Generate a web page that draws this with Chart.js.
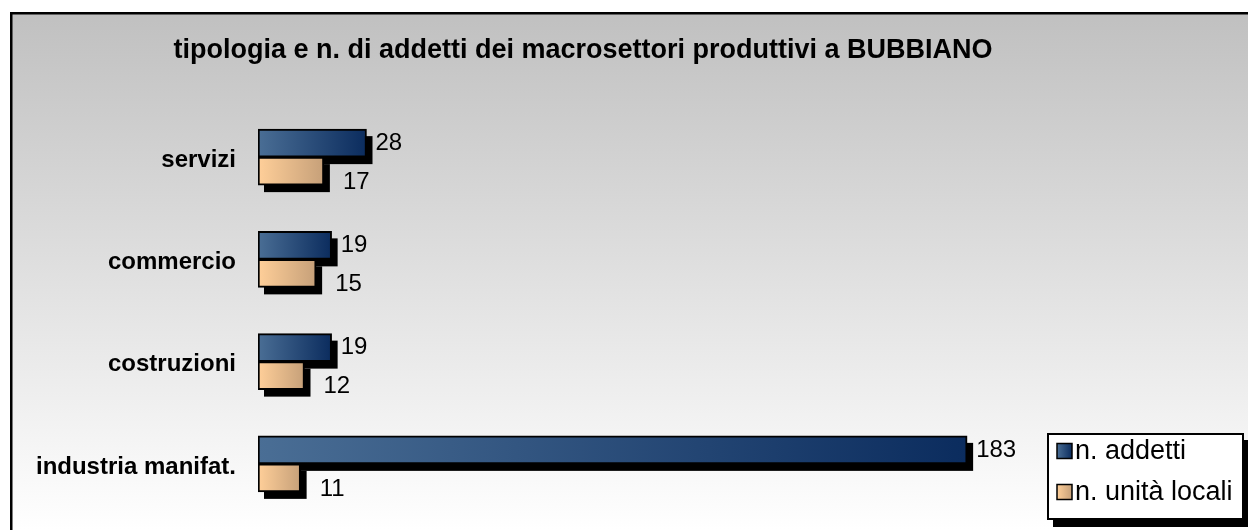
<!DOCTYPE html>
<html>
<head>
<meta charset="utf-8">
<script src="https://cdn.jsdelivr.net/npm/chart.js@4.4.1/dist/chart.umd.min.js"></script>
<style>
  html, body { margin: 0; padding: 0; background: #fff; }
  #wrap { width: 1248px; height: 530px; }
</style>
</head>
<body>
<div id="wrap"><canvas id="chart"></canvas></div>
<script>
// chart data
const titleText = 'tipologia e n. di addetti dei macrosettori produttivi a BUBBIANO';
const categories = ['servizi', 'commercio', 'costruzioni', 'industria manifat.'];
const addetti = [28, 19, 19, 183];
const unitaLocali = [17, 15, 12, 11];
const seriesNames = ['n. addetti', 'n. unità locali'];

const FONT = '"Liberation Sans", Arial, sans-serif';

// horizontal gradient for each bar, from zero to the bar end
function barGradient(light, dark) {
  return function (ctx) {
    const chart = ctx.chart;
    const x = chart.scales.x;
    if (!x || ctx.type !== 'data') return dark;
    const x0 = x.getPixelForValue(0);
    const x1 = x.getPixelForValue(ctx.raw);
    if (!isFinite(x0) || !isFinite(x1) || x1 - x0 < 1) return dark;
    const g = chart.ctx.createLinearGradient(x0, 0, x1, 0);
    g.addColorStop(0, light);
    g.addColorStop(1, dark);
    return g;
  };
}

const blue = ['#4a6e95', '#0b2c5e'];
const orange = ['#ffcf99', '#c6a079'];

// background, frame and title
const frame = {
  id: 'frame',
  beforeDraw(chart) {
    const c = chart.ctx;
    c.save();
    c.fillStyle = '#ffffff';
    c.fillRect(0, 0, chart.width, chart.height);
    const g = c.createLinearGradient(0, 12, 0, 530);
    g.addColorStop(0, '#c0c0c0');
    g.addColorStop(1, '#ffffff');
    c.fillStyle = g;
    c.fillRect(11, 13, chart.width, chart.height);
    c.strokeStyle = '#000';
    c.lineWidth = 2.5;
    c.strokeRect(11.25, 13.25, chart.width + 10, chart.height + 10);
    c.fillStyle = '#000';
    c.font = 'bold 27px ' + FONT;
    c.textAlign = 'center';
    c.textBaseline = 'middle';
    c.fillText(titleText, 583, 51);
    c.restore();
  }
};

// hard black drop shadow under the bars (drawn before the bars)
const barShadow = {
  id: 'barShadow',
  beforeDatasetsDraw(chart) {
    const c = chart.ctx;
    c.save();
    c.fillStyle = '#000';
    chart.data.datasets.forEach((ds, i) => {
      chart.getDatasetMeta(i).data.forEach(bar => {
        const p = bar.getProps(['x', 'y', 'base', 'height'], true);
        c.fillRect(p.base + 6, p.y - p.height / 2 + 7, p.x - p.base, p.height);
      });
    });
    c.restore();
  }
};

// value labels next to each bar
const valueLabels = {
  id: 'valueLabels',
  afterDatasetsDraw(chart) {
    const c = chart.ctx;
    c.save();
    c.fillStyle = '#000';
    c.font = '24px ' + FONT;
    c.textAlign = 'left';
    c.textBaseline = 'middle';
    chart.data.datasets.forEach((ds, i) => {
      const meta = chart.getDatasetMeta(i);
      meta.data.forEach((bar, j) => {
        const dx = i === 0 ? 9 : 19;
        const dy = i === 0 ? 0 : 11;
        c.fillText(String(ds.data[j]), bar.x + dx, bar.y + dy);
      });
    });
    c.restore();
  }
};

// boxed legend in the lower right corner
const boxLegend = {
  id: 'boxLegend',
  afterDraw(chart) {
    const c = chart.ctx;
    const bx = 1047, by = 433, bw = 197, bh = 87;
    c.save();
    c.fillStyle = '#000';
    c.fillRect(bx + 6, by + 7, bw, bh);
    c.fillStyle = '#fff';
    c.fillRect(bx, by, bw, bh);
    c.strokeStyle = '#000';
    c.lineWidth = 2;
    c.strokeRect(bx + 1, by + 1, bw - 2, bh - 2);
    c.font = '27px ' + FONT;
    c.textBaseline = 'middle';
    c.textAlign = 'left';
    const cols = [blue, orange];
    chart.data.datasets.forEach((ds, i) => {
      const cy = by + 18 + i * 41;
      const mx = 1057, ms = 15;
      const g = c.createLinearGradient(mx, 0, mx + ms, 0);
      g.addColorStop(0, cols[i][0]);
      g.addColorStop(1, cols[i][1]);
      c.fillStyle = g;
      c.fillRect(mx, cy - ms / 2, ms, ms);
      c.strokeStyle = '#000';
      c.lineWidth = 1.5;
      c.strokeRect(mx, cy - ms / 2, ms, ms);
      c.fillStyle = '#000';
      c.fillText(ds.label, 1075, cy + 1);
    });
    c.restore();
  }
};

new Chart(document.getElementById('chart'), {
  type: 'bar',
  data: {
    labels: categories,
    datasets: [
      {
        label: seriesNames[0],
        data: addetti,
        backgroundColor: barGradient(blue[0], blue[1]),
        borderColor: '#000',
        borderWidth: 2,
        borderSkipped: false,
        barThickness: 28
      },
      {
        label: seriesNames[1],
        data: unitaLocali,
        backgroundColor: barGradient(orange[0], orange[1]),
        borderColor: '#000',
        borderWidth: 2,
        borderSkipped: false,
        barThickness: 28
      }
    ]
  },
  options: {
    indexAxis: 'y',
    responsive: true,
    maintainAspectRatio: false,
    animation: false,
    layout: { padding: { left: 10, top: 106, right: 215, bottom: 15 } },
    plugins: {
      legend: { display: false },
      title: { display: false },
      tooltip: { enabled: false }
    },
    scales: {
      x: {
        display: false,
        min: 0,
        max: 200
      },
      y: {
        afterFit(scale) {
          scale.width = 248;
          scale.paddingTop = 0;
          scale.paddingBottom = 0;
        },
        grid: { display: false, drawTicks: false },
        border: { display: false },
        ticks: {
          padding: 22,
          labelOffset: 3,
          color: '#000',
          font: { family: FONT, size: 24, weight: 'bold' }
        }
      }
    }
  },
  plugins: [frame, barShadow, valueLabels, boxLegend]
});
</script>
</body>
</html>
